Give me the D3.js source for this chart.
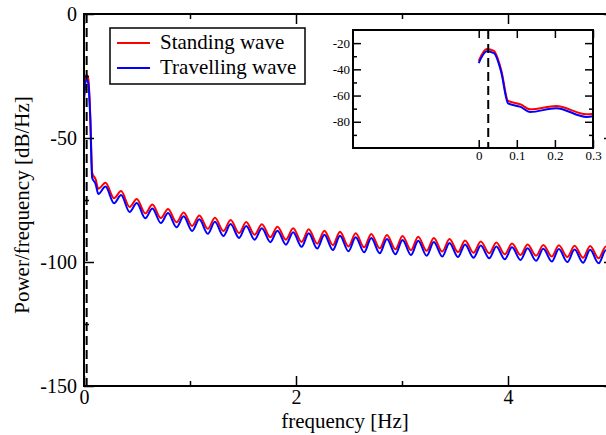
<!DOCTYPE html>
<html lang="en">
<head>
  <meta charset="utf-8">
  <title>Power spectrum</title>
  <script src="https://d3js.org/d3.v7.min.js"></script>
  <style>
    body { margin: 0; background: #fff; }
    svg text { font-family: "Liberation Serif", "Times New Roman", serif; fill: #000; }
  </style>
</head>
<body>
<svg id="chart" width="606" height="435"></svg>
<script>
// frequency [Hz] of each sample
const freq = [0, 0.021, 0.04, 0.059, 0.077, 0.11,
  0.135, 0.203, 0.283, 0.350, 0.430, 0.498, 0.578, 0.645, 0.725, 0.793,
  0.873, 0.940, 1.020, 1.088, 1.168, 1.235, 1.315, 1.383, 1.463, 1.530,
  1.610, 1.678, 1.758, 1.825, 1.905, 1.973, 2.053, 2.120, 2.200, 2.268,
  2.348, 2.415, 2.495, 2.563, 2.643, 2.710, 2.790, 2.858, 2.938, 3.005,
  3.085, 3.153, 3.233, 3.300, 3.380, 3.448, 3.528, 3.595, 3.675, 3.743,
  3.823, 3.890, 3.970, 4.038, 4.118, 4.185, 4.265, 4.333, 4.413, 4.480,
  4.560, 4.628, 4.708, 4.775, 4.855, 4.923, 5.003]

const standing = [-33.5, -24.5, -25.9, -40.5, -64.0, -66.7,
  -70.5, -68.0, -74.3, -71.4, -77.8, -74.6, -80.4, -76.8, -82.3, -78.6,
  -84.0, -80.0, -85.5, -81.2, -86.6, -82.2, -87.5, -83.1, -88.3, -83.9,
  -89.0, -84.8, -90.0, -85.8, -91.0, -86.4, -91.9, -86.8, -92.6, -87.4,
  -93.2, -87.8, -93.7, -88.4, -94.1, -88.7, -94.5, -89.1, -94.9, -89.5,
  -95.2, -89.8, -95.5, -90.3, -95.8, -90.7, -96.0, -91.3, -96.3, -91.7,
  -96.5, -92.1, -96.9, -92.5, -97.2, -92.9, -97.5, -93.1, -97.8, -93.2,
  -98.0, -93.4, -98.3, -93.5, -98.5, -93.7, -98.7]

const travelling = [-35.3, -26.3, -27.7, -42.0, -66.0, -68.6,
  -72.6, -69.6, -76.3, -73.0, -79.8, -76.2, -82.4, -78.4, -84.3, -80.2,
  -86.0, -81.6, -87.5, -82.8, -88.6, -83.8, -89.5, -84.7, -90.3, -85.5,
  -91.0, -86.4, -92.0, -87.4, -93.0, -88.0, -93.9, -88.4, -94.6, -89.0,
  -95.2, -89.4, -95.7, -90.0, -96.1, -90.3, -96.5, -90.7, -96.9, -91.1,
  -97.2, -91.4, -97.5, -91.9, -97.8, -92.3, -98.0, -92.9, -98.3, -93.3,
  -98.5, -93.7, -98.9, -94.1, -99.2, -94.5, -99.5, -94.7, -99.8, -94.8,
  -100.0, -95.0, -100.3, -95.1, -100.5, -95.3, -100.7]

const seriesNames = ["Standing wave", "Travelling wave"]
const seriesColors = ["#ff0000", "#0000ff"]
const markerFreq = 0.025

// main axes ticks
const xMajor = [0, 2, 4]
const xMinor = [1, 3, 5]
const yMajor = [-150, -100, -50, 0]
const yMinor = [-125, -75, -25]
// inset ticks
const insetXTicks = [0, 0.1, 0.2, 0.3]
const insetXLabels = ["0", "0.1", "0.2", "0.3"]
const insetYMajor = [-80, -60, -40, -20]
const insetYMinor = [-90, -70, -50, -30]

let svg = d3.select("#chart")

let series = seriesNames.map((name, i) => ({
  name: name,
  color: seriesColors[i],
  values: freq.map((f, j) => ({ f: f, v: i === 0 ? standing[j] : travelling[j] }))
}))

// plain hyphen, like the original plot
let plainNum = d => String(d)

// ---- main plot ----
let mainBox = { left: 84, right: 614, top: 14, bottom: 386 }

let x = d3.scaleLinear().domain([0, 5]).range([mainBox.left, mainBox.right])
let y = d3.scaleLinear().domain([-150, 0]).range([mainBox.bottom, mainBox.top])

function clipRect(id, box) {
  svg.append("clipPath").attr("id", id)
    .append("rect")
    .attr("x", box.left).attr("y", box.top)
    .attr("width", box.right - box.left).attr("height", box.bottom - box.top)
}

function drawSeries(xs, ys, clipId) {
  let line = d3.line()
    .x(d => xs(d.f))
    .y(d => ys(d.v))
    .curve(d3.curveMonotoneX)

  svg.append("g")
    .attr("clip-path", `url(#${clipId})`)
    .selectAll("path")
    .data(series)
    .join("path")
    .attr("d", d => line(d.values))
    .style("fill", "none")
    .style("stroke", d => d.color)
    .style("stroke-width", "2px")
}

function drawMarker(xs, box) {
  svg.append("line")
    .attr("x1", xs(markerFreq)).attr("x2", xs(markerFreq))
    .attr("y1", box.top).attr("y2", box.bottom)
    .style("stroke", "#000")
    .style("stroke-width", "2px")
    .style("stroke-dasharray", "9,5")
}

function tickAxis(axis, values, size, fmt, pad) {
  return axis.tickValues(values).tickSizeInner(-size).tickSizeOuter(0)
    .tickPadding(pad || 4).tickFormat(fmt || "")
}

function drawAxes(xs, ys, box, opts) {
  let g = svg.append("g")
  g.append("g").attr("transform", `translate(0,${box.bottom})`)
    .call(tickAxis(d3.axisBottom(xs), opts.xMajor, opts.major, opts.xFmt, opts.xPad))
  g.append("g").attr("transform", `translate(0,${box.bottom})`)
    .call(tickAxis(d3.axisBottom(xs), opts.xMinor, opts.minor))
  g.append("g").attr("transform", `translate(0,${box.top})`)
    .call(tickAxis(d3.axisTop(xs), opts.xMajor, opts.major))
  g.append("g").attr("transform", `translate(0,${box.top})`)
    .call(tickAxis(d3.axisTop(xs), opts.xMinor, opts.minor))
  g.append("g").attr("transform", `translate(${box.left},0)`)
    .call(tickAxis(d3.axisLeft(ys), opts.yMajor, opts.major, opts.yFmt, opts.yPad))
  g.append("g").attr("transform", `translate(${box.left},0)`)
    .call(tickAxis(d3.axisLeft(ys), opts.yMinor, opts.minor))
  g.append("g").attr("transform", `translate(${box.right},0)`)
    .call(tickAxis(d3.axisRight(ys), opts.yMajor, opts.major))
  g.append("g").attr("transform", `translate(${box.right},0)`)
    .call(tickAxis(d3.axisRight(ys), opts.yMinor, opts.minor))
  g.selectAll(".domain").remove()
  g.selectAll(".tick line").style("stroke", "#000").style("stroke-width", "1.5px")
  g.selectAll("text")
    .style("font-family", "'Liberation Serif', 'Times New Roman', serif")
    .style("font-size", opts.fontSize + "px")
    .style("fill", "#000")
  g.append("rect")
    .attr("x", box.left).attr("y", box.top)
    .attr("width", box.right - box.left).attr("height", box.bottom - box.top)
    .style("fill", "none").style("stroke", "#000").style("stroke-width", "2px")
  return g
}

clipRect("mainClip", mainBox)
drawSeries(x, y, "mainClip")
drawMarker(x, mainBox)

drawAxes(x, y, mainBox, {
  xMajor, xMinor, yMajor, yMinor,
  major: 10, minor: 5,
  xFmt: plainNum, yFmt: plainNum,
  xPad: 4, yPad: 7, fontSize: 20
})

svg.append("text")
  .attr("x", 345).attr("y", 428)
  .attr("text-anchor", "middle")
  .style("font-size", "21px")
  .text("frequency [Hz]")

svg.append("text")
  .attr("transform", "translate(29,205) rotate(-90)")
  .attr("text-anchor", "middle")
  .style("font-size", "21px")
  .text("Power/frequency [dB/Hz]")

// ---- legend ----
let legend = svg.append("g")
legend.append("rect")
  .attr("x", 110).attr("y", 28).attr("width", 195).attr("height", 56)
  .style("fill", "#fff").style("stroke", "#000").style("stroke-width", "1.5px")
let legendRows = legend.selectAll("g.row")
  .data(series)
  .join("g")
  .attr("class", "row")
  .attr("transform", (d, i) => `translate(0,${43 + i * 25})`)
legendRows.append("line")
  .attr("x1", 117).attr("x2", 150)
  .style("stroke", d => d.color).style("stroke-width", "2px")
legendRows.append("text")
  .attr("x", 160).attr("y", 6)
  .style("font-size", "21px")
  .text(d => d.name)

// ---- inset ----
let insetBox = { left: 353, right: 593, top: 30, bottom: 148 }
let xi = d3.scaleLinear().domain([-0.33, 0.3]).range([insetBox.left, insetBox.right])
let yi = d3.scaleLinear().domain([-100, -10]).range([insetBox.bottom, insetBox.top])

svg.append("rect")
  .attr("x", insetBox.left).attr("y", insetBox.top)
  .attr("width", insetBox.right - insetBox.left).attr("height", insetBox.bottom - insetBox.top)
  .style("fill", "#fff")

clipRect("insetClip", insetBox)
drawSeries(xi, yi, "insetClip")
drawMarker(xi, insetBox)

drawAxes(xi, yi, insetBox, {
  xMajor: insetXTicks, xMinor: [], yMajor: insetYMajor, yMinor: insetYMinor,
  major: 8, minor: 4,
  xFmt: (d, i) => insetXLabels[i], yFmt: plainNum,
  xPad: 3, yPad: 3, fontSize: 13
})
</script>
</body>
</html>
